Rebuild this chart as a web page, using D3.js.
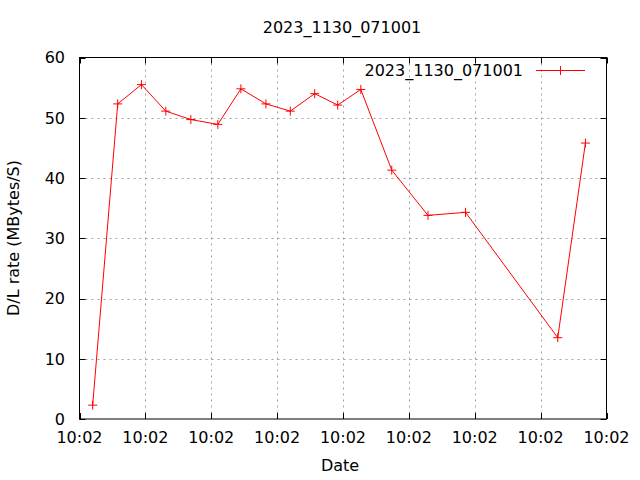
<!DOCTYPE html>
<html><head><meta charset="utf-8">
<script src="https://cdn.jsdelivr.net/npm/d3@7"></script>
<style>body{margin:0;background:#fff}svg{display:block}text{font-family:"DejaVu Sans",sans-serif;fill:#000}</style>
</head><body>
<script>
const title = "2023_1130_071001";
const seriesName = "2023_1130_071001";
// seconds after 10:02:00
const seconds = [1.0, 2.9, 4.7, 6.55, 8.45, 10.5, 12.25, 14.15, 16.0, 17.85, 19.6, 21.35, 23.7, 26.45, 29.3, 36.3, 38.4];
const rates = [2.3, 52.3, 55.5, 51.1, 49.7, 48.9, 54.8, 52.3, 51.1, 54.0, 52.1, 54.7, 41.3, 33.8, 34.3, 13.5, 45.8];
const xTicks = [0, 5, 10, 15, 20, 25, 30, 35, 40];
const xTickLabels = ["10:02","10:02","10:02","10:02","10:02","10:02","10:02","10:02","10:02"];
const yTicks = [0, 10, 20, 30, 40, 50, 60];

const W = 640, H = 480;
const L = 79.5, R = 606.5, T = 57.5, B = 419;
const svg = d3.select("body").append("svg").attr("width", W).attr("height", H);
const x = d3.scaleLinear().domain([0, 40]).range([L, R]);
const y = d3.scaleLinear().domain([0, 60]).range([B, T]);
const fs = 16, tick = 6;

// grid
const g = svg.append("g").attr("stroke", "#a0a0a0").attr("stroke-width", 1).attr("stroke-dasharray", "2,4");
xTicks.slice(1, -1).forEach(v => g.append("line").attr("x1", Math.round(x(v)) + 0.5).attr("x2", Math.round(x(v)) + 0.5).attr("y1", T).attr("y2", B));
yTicks.slice(1, -1).forEach(v => g.append("line").attr("y1", Math.round(y(v)) + 0.5).attr("y2", Math.round(y(v)) + 0.5).attr("x1", L).attr("x2", R));

// ticks (mirrored, inward)
const tk = svg.append("g").attr("stroke", "#000").attr("stroke-width", 1);
xTicks.forEach(v => {
  const px = Math.round(x(v)) + 0.5;
  tk.append("line").attr("x1", px).attr("x2", px).attr("y1", B).attr("y2", B - tick);
  tk.append("line").attr("x1", px).attr("x2", px).attr("y1", T).attr("y2", T + tick);
});
yTicks.forEach(v => {
  const py = Math.round(y(v)) + 0.5;
  tk.append("line").attr("x1", L).attr("x2", L + tick).attr("y1", py).attr("y2", py);
  tk.append("line").attr("x1", R).attr("x2", R - tick).attr("y1", py).attr("y2", py);
});

// tick labels
xTicks.forEach((v, i) => svg.append("text").attr("x", x(v)).attr("y", 443).attr("text-anchor", "middle").attr("font-size", fs).text(xTickLabels[i]));
yTicks.forEach(v => svg.append("text").attr("x", 65).attr("y", y(v)).attr("dy", "0.36em").attr("text-anchor", "end").attr("font-size", fs).text(v));

// frame
svg.append("rect").attr("x", L).attr("y", T).attr("width", R - L).attr("height", B - T).attr("fill", "none").attr("stroke", "#000").attr("stroke-width", 1);

// labels
svg.append("text").attr("x", 342).attr("y", 33).attr("text-anchor", "middle").attr("font-size", fs).text(title);
svg.append("text").attr("x", 340).attr("y", 471).attr("text-anchor", "middle").attr("font-size", fs).text("Date");
svg.append("text").attr("transform", "translate(19,238) rotate(-90)").attr("text-anchor", "middle").attr("font-size", fs).text("D/L rate (MBytes/S)");

// data
const data = seconds.map((s, i) => ({ s, v: rates[i] }));
const line = d3.line().x(d => x(d.s)).y(d => y(d.v));
svg.append("path").datum(data).attr("d", line).attr("fill", "none").attr("stroke", "#ff0000").attr("stroke-width", 1);
const m = 4.5;
const mk = svg.append("g").attr("stroke", "#ff0000").attr("stroke-width", 1);
data.forEach(d => {
  const px = x(d.s), py = y(d.v);
  mk.append("line").attr("x1", px - m).attr("x2", px + m).attr("y1", py).attr("y2", py);
  mk.append("line").attr("x1", px).attr("x2", px).attr("y1", py - m).attr("y2", py + m);
});

// legend
svg.append("text").attr("x", 523).attr("y", 70).attr("dy", "0.36em").attr("text-anchor", "end").attr("font-size", fs).text(seriesName);
svg.append("line").attr("x1", 536).attr("x2", 585).attr("y1", 70.5).attr("y2", 70.5).attr("stroke", "#ff0000");
svg.append("line").attr("x1", 560.5 - m).attr("x2", 560.5 + m).attr("y1", 70.5).attr("y2", 70.5).attr("stroke", "#ff0000");
svg.append("line").attr("x1", 560.5).attr("x2", 560.5).attr("y1", 70.5 - m).attr("y2", 70.5 + m).attr("stroke", "#ff0000");
</script>
</body></html>
